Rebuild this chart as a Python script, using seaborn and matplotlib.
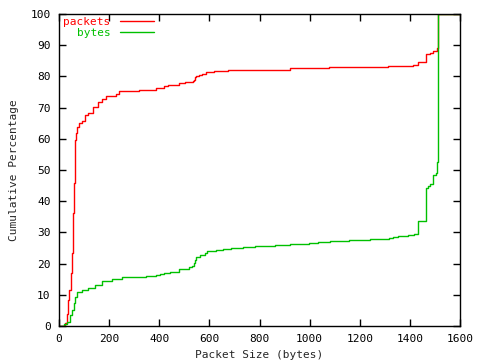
import matplotlib
matplotlib.use("Agg")
import matplotlib.pyplot as plt
import seaborn as sns
import pandas as pd

# Data (packet size in bytes, cumulative %)
packets_x = [0, 20, 24, 31, 37, 41, 47, 51, 55, 57, 60, 63, 65, 68, 73, 80, 91, 104, 117,
             137, 157, 170, 187, 227, 240, 320, 387, 417, 433, 477, 504, 533, 537, 541,
             548, 557, 571, 588, 617, 675, 764, 920, 1077, 1313, 1413, 1433, 1464, 1480,
             1493, 1507, 1514, 1600]
packets_y = [0, 0, 1.0, 4.0, 8.3, 11.5, 16.9, 23.3, 29.7, 36.1, 45.7, 53.2, 59.6, 61.8,
             63.9, 65.0, 65.8, 67.6, 68.4, 70.3, 71.9, 72.8, 73.8, 74.4, 75.3, 75.6, 76.4,
             76.9, 77.2, 77.8, 78.1, 78.5, 79.0, 79.7, 80.2, 80.6, 80.9, 81.3, 81.6, 81.9,
             82.2, 82.6, 82.9, 83.3, 83.7, 84.6, 87.2, 87.6, 88.1, 89.0, 100, 100]

bytes_x = [0, 16, 21, 31, 44, 53, 60, 64, 71, 91, 117, 144, 171, 211, 251, 304, 347, 387,
           404, 417, 444, 477, 517, 531, 537, 541, 548, 564, 584, 591, 627, 653, 688, 733,
           784, 860, 921, 997, 1033, 1081, 1157, 1241, 1317, 1331, 1351, 1393, 1417,
           1433, 1464, 1473, 1480, 1491, 1503, 1507, 1514, 1600]
bytes_y = [0, 0, 0.5, 1.4, 3.5, 5.1, 7.3, 9.4, 11.0, 11.5, 12.3, 13.3, 14.4, 15.1, 15.6,
           15.8, 16.0, 16.3, 16.7, 17.1, 17.4, 18.4, 18.8, 19.3, 20.1, 21.2, 22.2, 22.9,
           23.5, 24.0, 24.4, 24.7, 25.0, 25.3, 25.6, 26.0, 26.3, 26.6, 26.9, 27.2, 27.6,
           27.9, 28.2, 28.5, 28.8, 29.2, 29.5, 33.7, 44.3, 45.0, 45.4, 48.4, 48.9, 52.7,
           100, 100]

xticks = [0, 200, 400, 600, 800, 1000, 1200, 1400, 1600]
yticks = [0, 10, 20, 30, 40, 50, 60, 70, 80, 90, 100]

sns.set_theme(style="ticks")
plt.rcParams['font.family'] = ['DejaVu Sans Mono', 'DejaVu Sans']

fig = plt.figure(figsize=(4.8, 3.6), dpi=100)
ax = fig.add_axes([59/480, 1 - 326/360, (460 - 59)/480, (326 - 14)/360])

dfp = pd.DataFrame({"x": packets_x, "y": packets_y})
dfb = pd.DataFrame({"x": bytes_x, "y": bytes_y})
sns.lineplot(data=dfp, x="x", y="y", ax=ax, color="#ff0000", lw=1.0,
             drawstyle="steps-post", label="packets", estimator=None, sort=False)
sns.lineplot(data=dfb, x="x", y="y", ax=ax, color="#00c000", lw=1.0,
             drawstyle="steps-post", label="bytes", estimator=None, sort=False)

ax.set_xlim(0, 1600)
ax.set_ylim(0, 100)
ax.set_xticks(xticks)
ax.set_yticks(yticks)
ax.set_xticklabels([str(t) for t in xticks], fontsize=8)
ax.set_yticklabels([str(t) for t in yticks], fontsize=8)
ax.tick_params(direction="in", length=5, width=1, top=True, right=True,
               colors="black", pad=6)
for s in ax.spines.values():
    s.set_visible(True)
    s.set_color("black")
    s.set_linewidth(1)

ax.set_xlabel("Packet Size (bytes)", fontsize=8, labelpad=4)
ax.set_ylabel("Cumulative Percentage", fontsize=8, labelpad=8)

leg = ax.legend(loc="upper left", frameon=False, markerfirst=False,
                labelcolor="linecolor", fontsize=8, handlelength=3.1,
                handletextpad=0.8, borderaxespad=0.0, labelspacing=0.1,
                bbox_to_anchor=(0.0, 1.005))
for t in leg.get_texts():
    t.set_ha("right")

fig.savefig("out.png", dpi=100)
